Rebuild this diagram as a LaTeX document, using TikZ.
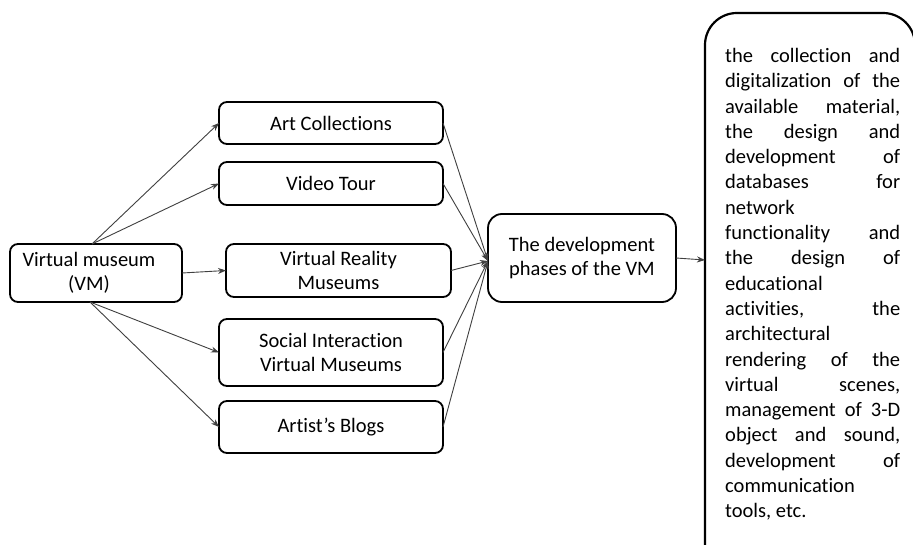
\documentclass[tikz,border=0pt]{standalone}
\usepackage{fontspec}
\setmainfont{Carlito}[RawFeature={-liga;-clig;-calt;-dlig}]
\usetikzlibrary{arrows.meta}
\newcommand\jline[1]{\makebox[175pt][s]{\spaceskip=0.226em plus 1fil\relax #1}}
\newcommand\lline[1]{\makebox[175pt][l]{\spaceskip=0.226em\relax #1}}
\begin{document}
\frenchspacing
\begin{tikzpicture}[x=1pt,y=-1pt,
  box/.style={draw=black,line width=1.8pt,rounded corners=8pt,inner sep=0pt,outer sep=0pt,align=center,
    font=\fontsize{20.5}{24.5}\selectfont},
  conn/.style={draw=black!75,line width=0.9pt,-{Stealth[length=8pt,width=6pt]}}]
\useasboundingbox (0,0) rectangle (913,545);
\clip (0,0) rectangle (913,545);
\fill[white] (0,0) rectangle (913,545);
\node[box,minimum width=172pt,minimum height=58pt] (vm) at (96,273) {Virtual museum\hspace*{14pt}\\(VM)\hspace*{14pt}};
\node[box,minimum width=224pt,minimum height=42pt] (art) at (331,123) {Art Collections};
\node[box,minimum width=224pt,minimum height=43pt] (video) at (331,183.5) {Video Tour};
\node[box,minimum width=225pt,minimum height=53pt] (vr) at (338.5,270.5) {Virtual Reality\\Museums};
\node[box,minimum width=224pt,minimum height=67pt] (social) at (331,352.5) {Social Interaction\\Virtual Museums};
\node[box,minimum width=224pt,minimum height=52pt] (blogs) at (331,427) {Artist’s Blogs};
\node[box,minimum width=188pt,minimum height=88pt,rounded corners=14pt] (dev) at (582,258) {The development\\phases of the VM};
\draw[line width=2.2pt,rounded corners=32pt] (705,13) rectangle (915,575);
\coordinate (rbw) at (705,260);
\coordinate (vmt) at (92,244);
\coordinate (vmb) at (90,302);
\coordinate (devin) at (488,261);
\draw[conn] (vmt) -- (art.west);
\draw[conn] (vmt) -- (video.west);
\draw[conn] (vm.east) -- (vr.west);
\draw[conn] (vmb) -- (social.west);
\draw[conn] (vmb) -- (blogs.west);
\draw[conn] (art.east) -- (devin);
\draw[conn] (video.east) -- (devin);
\draw[conn] (vr.east) -- (devin);
\draw[conn] (social.east) -- (devin);
\draw[conn] (blogs.east) -- (devin);
\draw[conn] (dev.east) -- (rbw);
\node[anchor=north west,inner sep=0pt,align=left,text width=175pt,
  font=\fontsize{20.5}{25.3}\selectfont] (txt) at (725,48) {%
\jline{the collection and}\\
\jline{digitalization of the}\\
\jline{available material,}\\
\jline{the design and}\\
\jline{development of}\\
\jline{databases for}\\
\lline{network}\\
\jline{functionality and}\\
\jline{the design of}\\
\lline{educational}\\
\jline{activities, the}\\
\lline{architectural}\\
\jline{rendering of the}\\
\jline{virtual scenes,}\\
\jline{management of 3-D}\\
\jline{object and sound,}\\
\jline{development of}\\
\lline{communication}\\
\lline{tools, etc.}};
\end{tikzpicture}
\end{document}
